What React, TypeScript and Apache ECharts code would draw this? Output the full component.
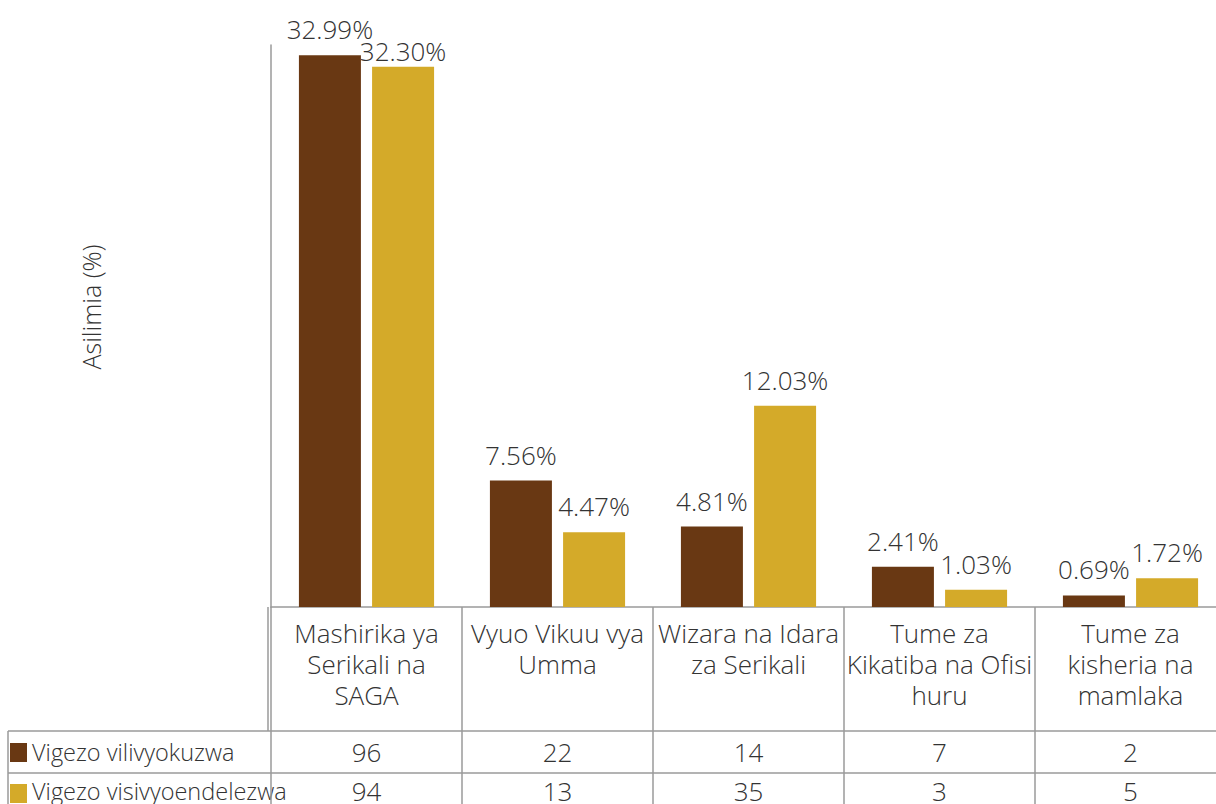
import React, { useEffect, useRef } from "react";
import * as echarts from "echarts";

const categories = [
  "Mashirika ya\nSerikali na\nSAGA",
  "Vyuo Vikuu vya\nUmma",
  "Wizara na Idara\nza Serikali",
  "Tume za\nKikatiba na Ofisi\nhuru",
  "Tume za\nkisheria na\nmamlaka",
];
const seriesNames = ["Vigezo vilivyokuzwa", "Vigezo visivyoendelezwa"];
const percentPromoted = [32.99, 7.56, 4.81, 2.41, 0.69];
const percentNotDeveloped = [32.3, 4.47, 12.03, 1.03, 1.72];
const countPromoted = [96, 22, 14, 7, 2];
const countNotDeveloped = [94, 13, 35, 3, 5];
const yAxisTitle = "Asilimia (%)";

const COLORS = ["#693813", "#D4AA29"];
const TEXT = "#333333";
const LINE = "#9a9a9a";
const FONT = "'Open Sans'";

export default function App() {
  const ref = useRef<HTMLDivElement>(null);
  useEffect(() => {
    document.body.style.margin = "0";
    const chart = echarts.init(ref.current!, null, { renderer: "svg" });
    const labelCfg = {
      show: true,
      position: "top",
      distance: 13,
      fontSize: 26,
      lineHeight: 26,
      fontFamily: FONT,
      fontWeight: 300,
      color: TEXT,
      formatter: (p: any) => Number(p.value).toFixed(2) + "%",
    };
    // the first gold label sits closer to its bar so it clears the neighbouring label
    const goldData = percentNotDeveloped.map((v, i) =>
      i === 0 ? { value: v, label: { distance: 3 } } : v
    );
    chart.setOption({
      animation: false,
      backgroundColor: "#ffffff",
      grid: { left: 271, top: 45, width: 955, height: 562, containLabel: false },
      xAxis: {
        type: "category",
        data: categories,
        axisLine: { show: true, lineStyle: { color: LINE, width: 1.5 } },
        axisTick: { show: true, interval: 0, alignWithLabel: false, length: 197, lineStyle: { color: LINE, width: 1.5 } },
        axisLabel: {
          interval: 0,
          fontSize: 26,
          lineHeight: 31,
          fontFamily: FONT,
          fontWeight: 300,
          color: TEXT,
          margin: 10,
          verticalAlign: "top",
          align: "center",
        },
      },
      yAxis: {
        type: "value",
        min: 0,
        max: 33.6,
        axisLine: { show: true, lineStyle: { color: LINE, width: 1.5 } },
        axisTick: { show: false },
        axisLabel: { show: false },
        splitLine: { show: false },
      },
      series: [
        {
          name: seriesNames[0],
          type: "bar",
          data: percentPromoted,
          barWidth: 62,
          barGap: "18%",
          itemStyle: { color: COLORS[0] },
          label: labelCfg,
        },
        {
          name: seriesNames[1],
          type: "bar",
          data: goldData,
          barWidth: 62,
          barGap: "18%",
          itemStyle: { color: COLORS[1] },
          label: labelCfg,
        },
      ],
    });

    const centers = categories.map((_, i) => chart.convertToPixel({ xAxisIndex: 0 }, i) as number);
    const band = centers[1] - centers[0];
    const axisX = centers[0] - band / 2;
    const axisBottom = chart.convertToPixel({ yAxisIndex: 0 }, 0) as number;
    const row1Top = 731;
    const row2Top = 773;
    const bottom = 804;
    const W = 1216;
    const textStyle = (t: string, x: number, y: number, align: string, size = 26) => ({
      text: t,
      x,
      y,
      align,
      verticalAlign: "middle",
      fontSize: size,
      lineHeight: size,
      fontFamily: FONT,
      fontWeight: 300,
      fill: TEXT,
    });
    const lineEl = (x1: number, y1: number, x2: number, y2: number) => ({
      type: "line",
      shape: { x1, y1, x2, y2 },
      style: { stroke: LINE, lineWidth: 1.5 },
      silent: true,
    });
    const r1 = 752;
    const r2 = 791;
    const elements: any[] = [
      {
        type: "text",
        x: 91,
        y: 307,
        rotation: Math.PI / 2,
        style: {
          text: yAxisTitle,
          align: "center",
          verticalAlign: "middle",
          fontSize: 25,
          fontFamily: FONT,
          fontWeight: 300,
          fill: TEXT,
        },
      },
      lineEl(axisX - 3, axisBottom, axisX - 3, row1Top),
      lineEl(8, row1Top, W, row1Top),
      lineEl(8, row2Top, W, row2Top),
      lineEl(8, row1Top, 8, bottom),
      { type: "rect", shape: { x: 10, y: 743, width: 17, height: 19 }, style: { fill: COLORS[0] } },
      { type: "rect", shape: { x: 10, y: 784, width: 17, height: 19 }, style: { fill: COLORS[1] } },
      { type: "text", style: textStyle(seriesNames[0], 32, r1, "left", 23.5) },
      { type: "text", style: textStyle(seriesNames[1], 32, r2, "left", 23.5) },
    ];
    centers.forEach((cx, i) => {
      elements.push({ type: "text", style: textStyle(String(countPromoted[i]), cx, r1, "center") });
      elements.push({ type: "text", style: textStyle(String(countNotDeveloped[i]), cx, r2, "center") });
    });
    chart.setOption({ graphic: { elements } });
    return () => chart.dispose();
  }, []);
  return (
    <div style={{ position: "absolute", left: 0, top: 0, width: 1216, height: 804, overflow: "hidden" }}>
      <div ref={ref} style={{ position: "absolute", left: 0, top: 0, width: 1240, height: 804 }} />
    </div>
  );
}
